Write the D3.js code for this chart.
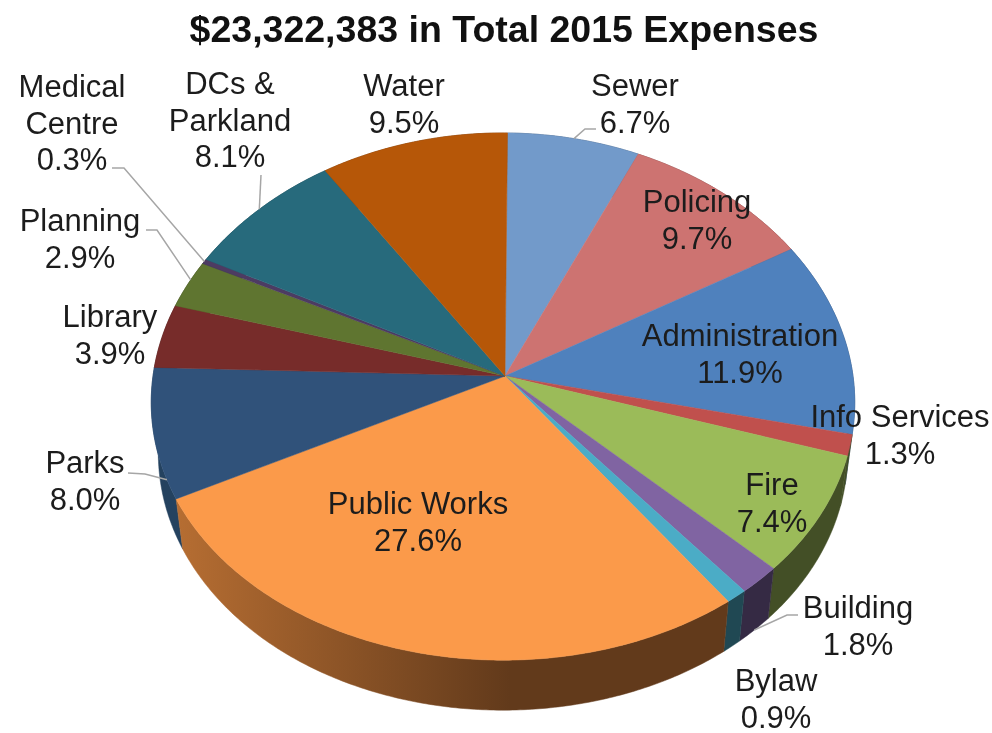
<!DOCTYPE html>
<html>
<head>
<meta charset="utf-8">
<script src="https://cdn.jsdelivr.net/npm/d3@7"></script>
<style>
  html, body { margin: 0; padding: 0; background: #fff; }
  svg { display: block; filter: blur(0.45px); }
  text { font-family: "Liberation Sans", Arial, sans-serif; fill: #1c1c1c; }
</style>
</head>
<body>
<div id="chart"></div>
<script>
const title = "$23,322,383 in Total 2015 Expenses";

// clockwise from 12 o'clock
const categories = ["Sewer", "Policing", "Administration", "Info Services", "Fire", "Building", "Bylaw",
    "Public Works", "Parks", "Library", "Planning", "Medical Centre", "DCs & Parkland", "Water"];
const shares = [6.7, 9.7, 11.9, 1.3, 7.4, 1.8, 0.9, 27.6, 8.0, 3.9, 2.9, 0.3, 8.1, 9.5];
const topColors = ["#729aca", "#cd7371", "#4f81bd", "#c0504d", "#9bbb59", "#8064a2", "#4bacc6",
    "#fb9a4a", "#30527a", "#772c2a", "#5f7530", "#4d3b62", "#276a7c", "#b65708"];
const wallColors = ["#3d5470", "#703f3e", "#2c4768", "#434f26", "#434f26", "#352a44", "#204853",
    "url(#pwWall)", "#24425f", "#421816", "#34401a", "#2a2036", "#153a44", "#643004"];

// label text broken the way it is in the chart, with centre x and first baseline
const labelLines = {
    "Sewer": ["Sewer"], "Policing": ["Policing"], "Administration": ["Administration"],
    "Info Services": ["Info Services"], "Fire": ["Fire"], "Building": ["Building"], "Bylaw": ["Bylaw"],
    "Public Works": ["Public Works"], "Parks": ["Parks"], "Library": ["Library"], "Planning": ["Planning"],
    "Medical Centre": ["Medical", "Centre"], "DCs & Parkland": ["DCs &", "Parkland"], "Water": ["Water"]
};
const labelPos = {
    "Sewer": [635, 96], "Policing": [697, 212], "Administration": [740, 346], "Info Services": [900, 427],
    "Fire": [772, 495], "Building": [858, 618], "Bylaw": [776, 691], "Public Works": [418, 514],
    "Parks": [85, 473], "Library": [110, 327], "Planning": [80, 231], "Medical Centre": [72, 97],
    "DCs & Parkland": [230, 94], "Water": [404, 96]
};
// leader: where on the slice's rim it lands (0..1 across the slice), then the elbow and text end
const leaders = {
    "Sewer": {at: 0.5, pts: [[585, 129], [596, 129]]},
    "Medical Centre": {at: 0.5, pts: [[124, 168], [112, 168]]},
    "Planning": {at: 0.6, pts: [[157, 230], [146, 230]]},
    "DCs & Parkland": {at: 0.5, pts: [[261, 175]]},
    "Parks": {at: 0.15, pts: [[145, 474], [128, 473]]},
    "Building": {at: 0.5, wall: true, pts: [[787, 615], [798, 615]]}
};

const width = 992, height = 733;
const cx = 503, cy = 376, rx = 350, ry = 262, tiltY = 0.078, tiltX = 0.1;
const apexX = 505, turn = 0.014;
const wallH = 50, wallShrink = 0.98;
const fontSize = 31, lineGap = 36.5;

const svg = d3.select("#chart").append("svg")
    .attr("width", width)
    .attr("height", height);

const grad = svg.append("defs").append("linearGradient")
    .attr("id", "pwWall")
    .attr("gradientUnits", "userSpaceOnUse")
    .attr("x1", 180).attr("x2", 510).attr("y1", 0).attr("y2", 0);
grad.append("stop").attr("offset", 0).attr("stop-color", "#b56d32");
grad.append("stop").attr("offset", 1).attr("stop-color", "#623a1b");

// rim of the pie in perspective, the near side is a bit bigger than the far side
function rim(a) {
    let X = Math.sin(a), Y = -Math.cos(a);
    return [cx + rx * X / (1 - tiltX * Y), cy + ry * Y / (1 - tiltY * Y)];
}
function lowerRim(a) {
    let p = rim(a);
    return [cx + (p[0] - cx) * wallShrink, p[1] + wallH];
}

const pie = d3.pie().sort(null).value(d => d.share)
    .startAngle(turn).endAngle(2 * Math.PI + turn);
const slices = pie(categories.map((name, i) => ({name: name, share: shares[i], i: i})));
const line = d3.line();

function arcAngles(d) {
    let n = Math.max(2, Math.ceil((d.endAngle - d.startAngle) / 0.01));
    return d3.range(n + 1).map(k => d.startAngle + (d.endAngle - d.startAngle) * k / n);
}

// walls first, back to front, then the top surface over them
const byDepth = slices.slice().sort((a, b) =>
    rim((a.startAngle + a.endAngle) / 2)[1] - rim((b.startAngle + b.endAngle) / 2)[1]);

svg.append("g").selectAll("path")
    .data(byDepth)
    .join("path")
    .attr("d", d => {
        let as = arcAngles(d);
        return line(as.map(rim).concat(as.slice().reverse().map(lowerRim))) + "Z";
    })
    .attr("fill", d => wallColors[d.data.i])
    .attr("stroke", d => wallColors[d.data.i])
    .attr("stroke-width", 0.5);

svg.append("g").selectAll("path")
    .data(slices)
    .join("path")
    .attr("d", d => line([[apexX, cy]].concat(arcAngles(d).map(rim))) + "Z")
    .attr("fill", d => topColors[d.data.i])
    .attr("stroke", d => topColors[d.data.i])
    .attr("stroke-width", 0.5);

svg.append("g").selectAll("path")
    .data(slices.filter(d => leaders[d.data.name]))
    .join("path")
    .attr("d", d => {
        let l = leaders[d.data.name];
        let a = d.startAngle + (d.endAngle - d.startAngle) * l.at;
        return line([(l.wall ? lowerRim : rim)(a)].concat(l.pts));
    })
    .attr("fill", "none")
    .attr("stroke", "#a6a6a6")
    .attr("stroke-width", 1.5);

const labels = svg.append("g").selectAll("text")
    .data(slices)
    .join("text")
    .attr("text-anchor", "middle")
    .attr("font-size", fontSize);

labels.selectAll("tspan")
    .data(d => labelLines[d.data.name].concat([d.data.share.toFixed(1) + "%"])
        .map((t, k) => ({t: t, x: labelPos[d.data.name][0], y: labelPos[d.data.name][1] + k * lineGap})))
    .join("tspan")
    .attr("x", d => d.x)
    .attr("y", d => d.y)
    .text(d => d.t);

svg.append("text")
    .attr("x", 504)
    .attr("y", 42)
    .attr("text-anchor", "middle")
    .attr("font-size", 37.5)
    .attr("font-weight", "bold")
    .style("fill", "#111")
    .text(title);
</script>
</body>
</html>
